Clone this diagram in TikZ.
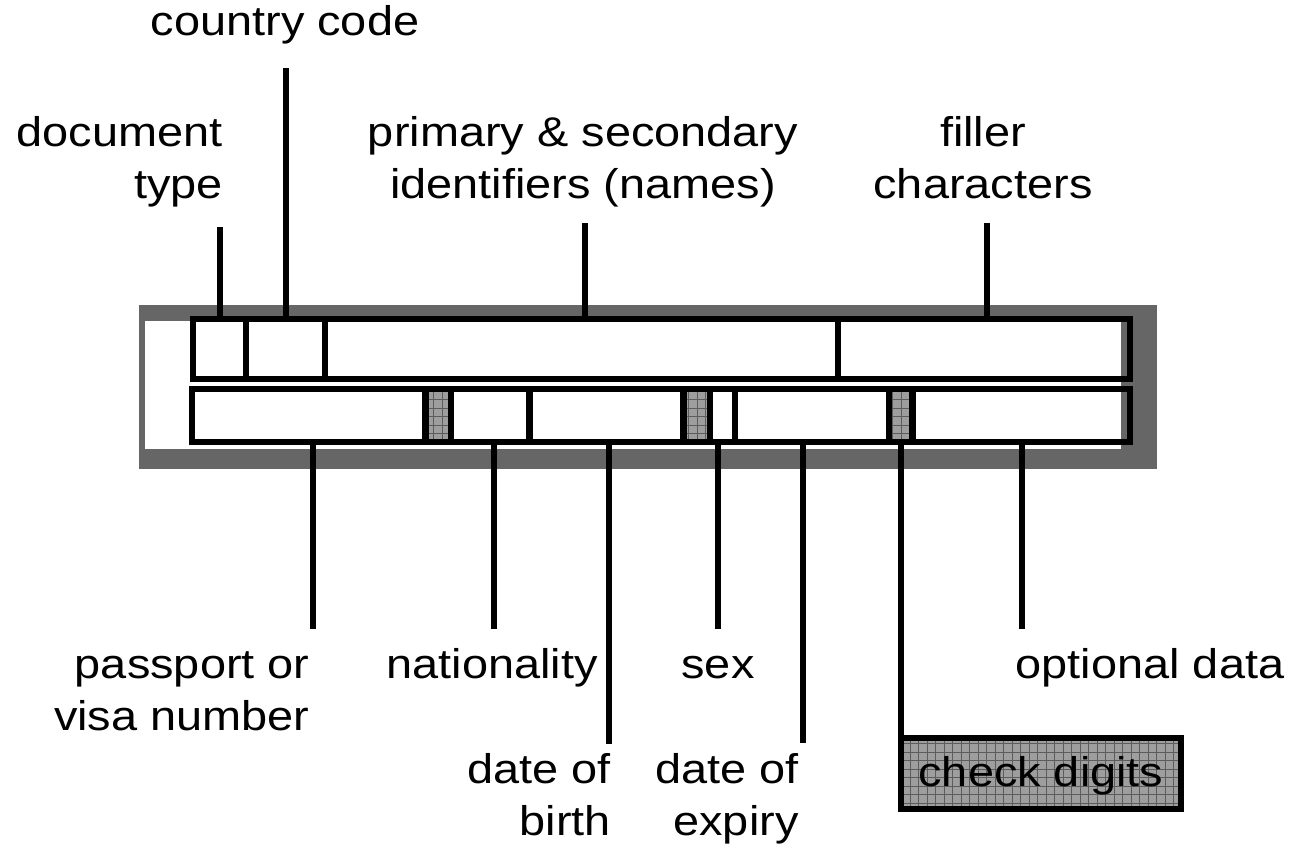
\documentclass[tikz,border=0pt]{standalone}
\usepackage{fontspec}
\setmainfont{Liberation Sans}[FakeStretch=1.13]
\definecolor{bggray}{RGB}{102,102,102}
\definecolor{hatchgray}{RGB}{158,158,158}
\definecolor{hatchline}{RGB}{92,92,92}
\newcommand\rtwo[2]{\vtop{\halign{\hfil##\cr#1\cr#2\cr}}}
\newcommand\ctwo[2]{\vtop{\halign{\hfil##\hfil\cr#1\cr#2\cr}}}
\newcommand\hatchcell[4]{%
  \begin{scope}
    \clip (#1,#2) rectangle (#3,#4);
    \fill[hatchgray] (#1,#2) rectangle (#3,#4);
    \draw[hatchline,line width=0.7pt] (#1,#4) grid[step=8.5pt] (#3,#2);
  \end{scope}}
\begin{document}
\begin{tikzpicture}[x=1pt,y=-1pt,
  lab/.style={font=\fontsize{41.5}{52}\selectfont, inner sep=0pt, outer sep=0pt},
  lead/.style={line width=6pt},
  boxline/.style={line width=6pt},
  divline/.style={line width=6.5pt},
  chkbox/.style={draw, line width=6pt, fill=hatchgray, inner sep=0pt, outer sep=0pt,
    minimum width=280pt, minimum height=70.7pt, text height=30pt, text depth=4.8pt,
    font=\fontsize{41.5}{52}\selectfont,
    path picture={\draw[hatchline,line width=0.7pt] (path picture bounding box.south west) grid[step=8.5pt] (path picture bounding box.north east);}}]
\useasboundingbox (0,0) rectangle (1296,860);
% background
\fill[bggray] (139,305) rectangle (1157,469);
\fill[white] (145,321) rectangle (1121,449);
% hatched check-digit cells
\hatchcell{425.5}{388.5}{451}{442}
\hatchcell{683.3}{388.5}{710}{442}
\hatchcell{888.8}{388.5}{912.7}{442}
% top row
\draw[boxline] (192.5,319) rectangle (1129.5,379);
\foreach \x in {246,325,838} \draw[divline] (\x,319) -- (\x,379);
% bottom row
\draw[boxline] (191.7,388.5) rectangle (1129.7,442);
\foreach \x in {425.5,451,529.5,683.3,710,735,888.8,912.7} \draw[divline] (\x,388.5) -- (\x,442);
% top labels
\node[lab,anchor=base] (cc) at (285,35) {country code};
\node[lab,anchor=base east] (dt) at (222.7,146) {\rtwo{document}{type}};
\node[lab,anchor=base] (pri) at (583,146) {\ctwo{primary \& secondary}{identifiers (names)}};
\node[lab,anchor=base] (fil) at (983,146) {\ctwo{filler}{characters}};
% bottom labels
\node[lab,anchor=base east] (pp) at (309.5,678) {\rtwo{passport or}{visa number}};
\node[lab,anchor=base] (nat) at (492,678) {nationality};
\node[lab,anchor=base east] (dob) at (611,783) {\rtwo{date of}{birth}};
\node[lab,anchor=base] (sex) at (718,678) {sex};
\node[lab,anchor=base east] (doe) at (798.5,783) {\rtwo{date of}{expiry}};
\node[lab,anchor=base] (opt) at (1150,678) {optional data};
\node[chkbox] (chk) at (1041,773.4) {check digits};
% leader coordinates
\coordinate (cc1) at (285.7,68);  \coordinate (cc2) at (285.7,319);
\coordinate (dt1) at (220,227);   \coordinate (dt2) at (220,319);
\coordinate (pri1) at (585,223);  \coordinate (pri2) at (585,319);
\coordinate (fil1) at (987,223);  \coordinate (fil2) at (987,319);
\coordinate (pp1) at (313,442);   \coordinate (pp2) at (313,629);
\coordinate (nat1) at (494,442);  \coordinate (nat2) at (494,629);
\coordinate (dob1) at (609,442);  \coordinate (dob2) at (609,744);
\coordinate (sex1) at (718,442);  \coordinate (sex2) at (718,629);
\coordinate (doe1) at (803,442);  \coordinate (doe2) at (803,743);
\coordinate (chk1) at (901,442);
\coordinate (opt1) at (1022,442); \coordinate (opt2) at (1022,629);
% leaders
\draw[lead] (cc1) -- (cc2);
\draw[lead] (dt1) -- (dt2);
\draw[lead] (pri1) -- (pri2);
\draw[lead] (fil1) -- (fil2);
\draw[lead] (pp1) -- (pp2);
\draw[lead] (nat1) -- (nat2);
\draw[lead] (dob1) -- (dob2);
\draw[lead] (sex1) -- (sex2);
\draw[lead] (doe1) -- (doe2);
\draw[lead] (chk1) -- (chk1 |- chk.north);
\draw[lead] (opt1) -- (opt2);
\end{tikzpicture}
\end{document}
